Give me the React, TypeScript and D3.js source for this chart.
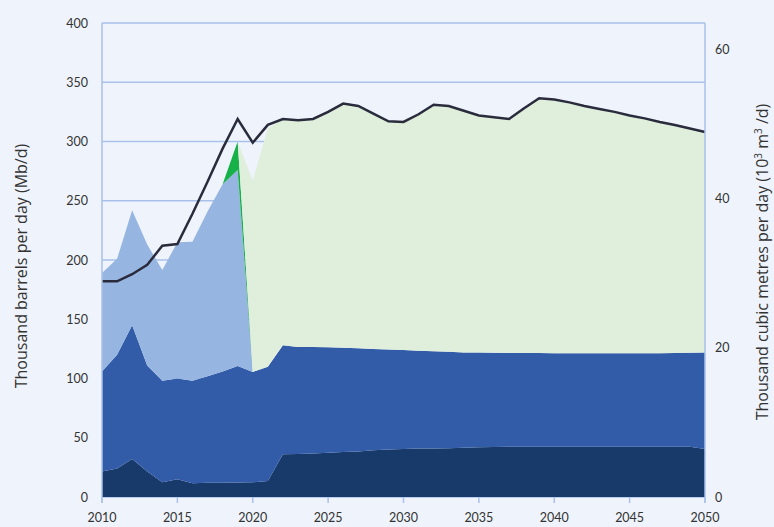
import React from "react";
import * as d3 from "d3";

const years = d3.range(2010, 2051);

// Stacked series (thousand barrels per day), bottom to top
const seriesNavy = [21.5, 24, 32, 21.5, 12.5, 15, 11.5, 12, 12, 12.2, 12.4, 13.5, 36, 36.3, 36.8, 37.4, 38, 38.5, 39.5, 40, 40.5, 41, 41, 41.2, 41.5, 42, 42.3, 42.5, 42.5, 42.5, 42.5, 42.5, 42.5, 42.5, 42.5, 42.5, 42.5, 42.5, 42.5, 42.5, 40.5];
const seriesMedium = [84.5, 96, 113, 89.5, 85.5, 85, 86.5, 90, 94, 98.3, 93.1, 96.5, 92, 90.3, 89.7, 88.9, 88, 87, 85.5, 84.5, 83.5, 82.5, 82, 81.3, 80.5, 80, 79.5, 79, 79, 79, 78.8, 78.8, 78.8, 78.8, 78.8, 78.8, 78.8, 78.9, 79, 79.2, 81.5];
const seriesLightBlue = [83, 81, 97, 102, 93.5, 115, 117.5, 139, 158, 165.5, 0, 0, 0, 0, 0, 0, 0, 0, 0, 0, 0, 0, 0, 0, 0, 0, 0, 0, 0, 0, 0, 0, 0, 0, 0, 0, 0, 0, 0, 0, 0];
const seriesGreen = [0, 0, 0, 0, 0, 0, 0, 0, 0, 24, 0, 0, 0, 0, 0, 0, 0, 0, 0, 0, 0, 0, 0, 0, 0, 0, 0, 0, 0, 0, 0, 0, 0, 0, 0, 0, 0, 0, 0, 0, 0];
const seriesLightGreen = [0, 0, 0, 0, 0, 0, 0, 0, 0, 0, 161.5, 201, 191, 191.4, 192.5, 198.7, 206, 204.5, 198, 192.5, 192.5, 199.5, 208, 207.5, 204, 200, 198.7, 197.5, 206.5, 215, 214.2, 211.7, 208.7, 206.2, 203.7, 200.7, 198.2, 195.1, 192.5, 189.3, 186];
// Total line
const totalLine = [182, 182, 188, 196, 212, 213.5, 239, 266, 294, 319, 299, 314, 319, 318, 319, 325, 332, 330, 323.5, 317, 316.5, 323, 331, 330, 326, 322, 320.5, 319, 328, 336.5, 335.5, 333, 330, 327.5, 325, 322, 319.5, 316.5, 314, 311, 308];

const leftTicks = [0, 50, 100, 150, 200, 250, 300, 350, 400];
const rightTicks = [0, 20, 40, 60];
const xTicks = [2010, 2015, 2020, 2025, 2030, 2035, 2040, 2045, 2050];
const BBL_PER_M3 = 6.2898;

const keys = ["navy", "medium", "lightBlue", "green", "lightGreen"];
const colors: Record<string, string> = {
  navy: "#183a6b",
  medium: "#335ca8",
  lightBlue: "#96b6e1",
  green: "#17b14a",
  lightGreen: "#e0eedc",
};

export default function App() {
  const W = 774, H = 527;
  const left = 102, right = 705, top = 23, bottom = 497;
  const x = d3.scaleLinear().domain([2010, 2050]).range([left, right]);
  const y = d3.scaleLinear().domain([0, 400]).range([bottom, top]);

  const rows = years.map((yr, i) => ({
    year: yr,
    navy: seriesNavy[i],
    medium: seriesMedium[i],
    lightBlue: seriesLightBlue[i],
    green: seriesGreen[i],
    lightGreen: seriesLightGreen[i],
  }));
  const stacked = d3.stack<any>().keys(keys)(rows);
  const area = d3
    .area<any>()
    .x((d) => x(d.data.year))
    .y0((d) => y(d[0]))
    .y1((d) => y(d[1]));
  const line = d3
    .line<number>()
    .x((_, i) => x(years[i]))
    .y((d) => y(d));

  const gridColor = "#a9c1ea";
  const textColor = "#333";
  const font = "Lato, 'Open Sans', sans-serif";
  const titleFont = "'Open Sans', Lato, sans-serif";

  return (
    <svg
      width={W}
      height={H}
      style={{ position: "fixed", left: 0, top: 0, fontFamily: font }}
    >
      <rect x={0} y={0} width={W} height={H} fill="#eff4fc" />
      {leftTicks.map((t) => (
        <line key={"g" + t} x1={left} x2={right} y1={y(t)} y2={y(t)} stroke={gridColor} strokeWidth={1.3} />
      ))}
      {stacked.map((s) => (
        <path key={s.key} d={area(s) || ""} fill={colors[s.key]} />
      ))}
      <path d={line(totalLine) || ""} fill="none" stroke="#2a2b3c" strokeWidth={2.5} strokeLinejoin="miter" />
      {/* axes */}
      <line x1={left} x2={left} y1={top} y2={bottom + 6} stroke={gridColor} strokeWidth={1.5} />
      <line x1={right} x2={right} y1={top} y2={bottom + 6} stroke={gridColor} strokeWidth={1.5} />
      {xTicks.map((t) => (
        <g key={"x" + t}>
          <line x1={x(t)} x2={x(t)} y1={bottom} y2={bottom + 6} stroke={gridColor} strokeWidth={1.5} />
          <text x={x(t)} y={522} textAnchor="middle" fontSize={12.5} fill={textColor}>
            {t}
          </text>
        </g>
      ))}
      {leftTicks.map((t) => (
        <text key={"l" + t} x={88} y={y(t) + 4.5} textAnchor="end" fontSize={12.5} fill={textColor}>
          {t}
        </text>
      ))}
      {rightTicks.map((t) => (
        <text key={"r" + t} x={715} y={y(t * BBL_PER_M3) + 4.5} textAnchor="start" fontSize={12.5} fill={textColor}>
          {t}
        </text>
      ))}
      <text
        transform={`translate(27, 266) rotate(-90)`}
        textAnchor="middle"
        fontSize={16}
        fill={textColor}
        fontFamily={titleFont}
      >
        Thousand barrels per day (Mb/d)
      </text>
      <text
        transform={`translate(768, 262) rotate(-90)`}
        textAnchor="middle"
        fontSize={16}
        fill={textColor}
        fontFamily={titleFont}
      >
        Thousand cubic metres per day (10
        <tspan fontSize={10} dy={-6}>3</tspan>
        <tspan dy={6}> m</tspan>
        <tspan fontSize={10} dy={-6}>3</tspan>
        <tspan dy={6}> /d)</tspan>
      </text>
    </svg>
  );
}
